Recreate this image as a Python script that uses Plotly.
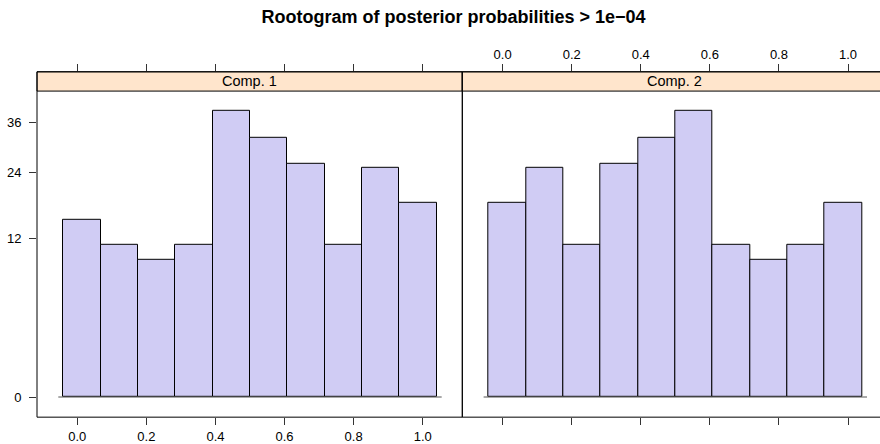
import numpy as np
import plotly.graph_objects as go

# ---- data ----
components = ["Comp. 1", "Comp. 2"]
breaks = [-0.04, 0.068, 0.176, 0.284, 0.392, 0.5, 0.608, 0.716, 0.824, 0.932, 1.04]
counts_comp1 = [15, 11, 9, 11, 39, 32, 26, 11, 25, 18]
counts_comp2 = [18, 25, 11, 26, 32, 39, 11, 9, 11, 18]
y_ticks = [0, 12, 24, 36]
x_ticks = [0.0, 0.2, 0.4, 0.6, 0.8, 1.0]
x_tick_labels = ["0.0", "0.2", "0.4", "0.6", "0.8", "1.0"]
title_text = "Rootogram of posterior probabilities > 1e\u221204"

# ---- layout geometry (pixels) ----
W, H = 880, 444
px_per_unit = 345.4
x0_px = 77.3            # pixel of x = 0 in panel 1
p1_left, p1_right = 37.0, 462.3
p2_left = p1_right
p2_offset = p2_left - p1_left
strip_top, strip_bot, plot_bot = 72.3, 91.7, 420.0
y0_px, py_per_unit = 399.7, 46.1

def fx(p):
    return p / W

def fy(p):
    return 1 - p / H

xr1 = [(p1_left - x0_px) / px_per_unit, (p1_right - x0_px) / px_per_unit]
xr2 = [xr1[0], xr1[0] + (W - p2_left) / px_per_unit]
yr = [-(plot_bot - y0_px) / py_per_unit, (y0_px - strip_top) / py_per_unit]

edges = np.array(breaks)
centers = (edges[:-1] + edges[1:]) / 2
widths = np.diff(edges)

bar_fill = "#D0CCF4"
strip_fill = "#FFE5CC"
font_family = "Liberation Sans, Arial, sans-serif"

fig = go.Figure()
for i, counts in enumerate([counts_comp1, counts_comp2]):
    xa = "x" if i == 0 else "x2"
    ya = "y" if i == 0 else "y2"
    fig.add_trace(go.Bar(
        x=centers, y=np.sqrt(counts), width=widths,
        marker=dict(color=bar_fill, line=dict(color="#000000", width=1)),
        xaxis=xa, yaxis=ya, showlegend=False, hoverinfo="skip",
    ))
# invisible helpers so the top (alternating) axes get drawn
for xa, ya in [("x3", "y"), ("x4", "y2")]:
    fig.add_trace(go.Scatter(x=[x_ticks[0]], y=[0], xaxis=xa, yaxis=ya,
                             mode="markers", marker=dict(opacity=0),
                             showlegend=False, hoverinfo="skip"))

tick_font = dict(family=font_family, size=13, color="#000000")
common_x = dict(showgrid=False, zeroline=False, showline=False, ticks="outside",
                ticklen=7, tickwidth=1, tickcolor="#333333",
                tickvals=x_ticks, ticktext=x_tick_labels, tickfont=tick_font)

fig.update_layout(
    width=W, height=H,
    margin=dict(l=0, r=0, t=0, b=0),
    paper_bgcolor="white", plot_bgcolor="white",
    bargap=0,
    font=dict(family=font_family, color="#000000"),
    title=dict(text="<b>" + title_text + "</b>", x=453.5 / W, y=fy(17),
               xanchor="center", yanchor="middle",
               font=dict(family=font_family, size=18, color="#000000")),
    xaxis=dict(domain=[fx(p1_left), fx(p1_right)], range=xr1, anchor="y",
               side="bottom", showticklabels=True, **common_x),
    xaxis2=dict(domain=[fx(p2_left), 1.0], range=xr2, anchor="y2",
                side="bottom", showticklabels=False, **common_x),
    xaxis3=dict(overlaying="x", range=xr1, anchor="y", side="top",
                showticklabels=False, **common_x),
    xaxis4=dict(overlaying="x2", range=xr2, anchor="y2", side="top",
                showticklabels=True, **common_x),
    yaxis=dict(domain=[fy(plot_bot), fy(strip_top)], range=yr, anchor="x",
               showgrid=False, zeroline=False, showline=False,
               ticks="outside", ticklen=7, tickwidth=1, tickcolor="#333333",
               ticklabelstandoff=5,
               tickvals=list(np.sqrt(y_ticks)), ticktext=[str(v) for v in y_ticks],
               tickfont=tick_font),
    yaxis2=dict(domain=[fy(plot_bot), fy(strip_top)], range=yr, anchor="x2",
                showgrid=False, zeroline=False, showline=False,
                showticklabels=False, ticks=""),
)

shapes = []
annotations = []
for i, name in enumerate(components):
    left = p1_left + i * p2_offset
    right = left + (p1_right - p1_left)
    # strip
    shapes.append(dict(type="rect", xref="paper", yref="paper",
                       x0=fx(left), x1=fx(right), y0=fy(strip_bot), y1=fy(strip_top),
                       fillcolor=strip_fill, line=dict(color="#000000", width=1),
                       layer="above"))
    # panel border
    shapes.append(dict(type="rect", xref="paper", yref="paper",
                       x0=fx(left), x1=fx(right), y0=fy(plot_bot), y1=fy(strip_top),
                       fillcolor="rgba(0,0,0,0)", line=dict(color="#000000", width=1),
                       layer="above"))
    # baseline at zero
    xa = "x" if i == 0 else "x2"
    ya = "y" if i == 0 else "y2"
    pad = 0.015
    shapes.append(dict(type="line", xref=xa, yref=ya,
                       x0=edges[0] - pad, x1=edges[-1] + pad, y0=0, y1=0,
                       line=dict(color="#555555", width=1), layer="above"))
    annotations.append(dict(text=name, xref="paper", yref="paper",
                            x=fx((left + right) / 2), y=fy((strip_top + strip_bot) / 2),
                            xanchor="center", yanchor="middle", showarrow=False,
                            font=dict(family=font_family, size=14.5, color="#000000")))

fig.update_layout(shapes=shapes, annotations=annotations)
fig.write_html("out.html", config={"displayModeBar": False},
               post_script="document.body.style.margin='0';document.body.style.overflow='hidden';")
